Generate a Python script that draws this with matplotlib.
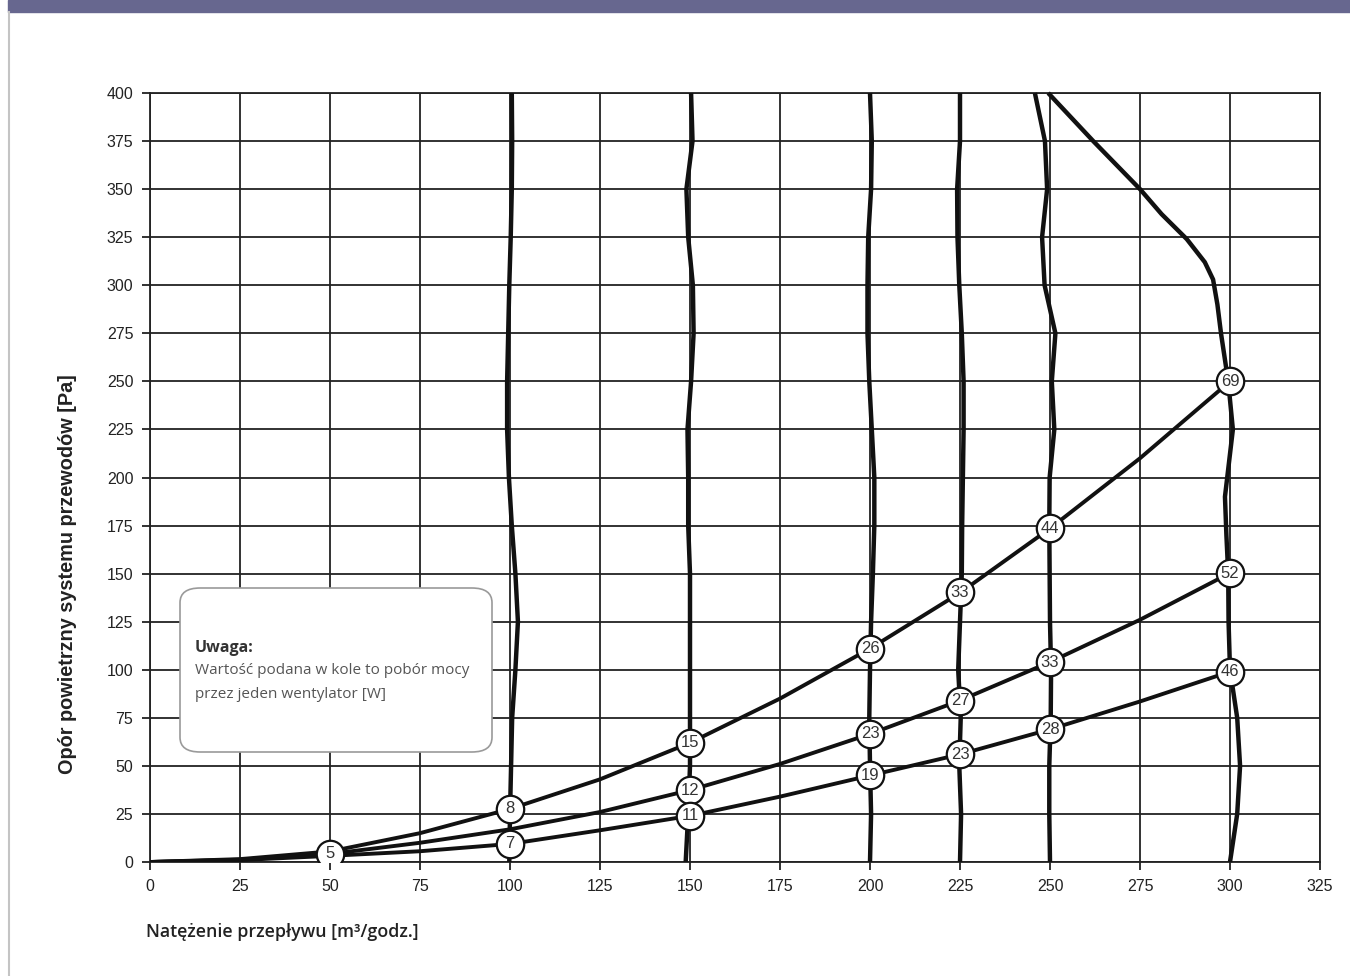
import matplotlib.pyplot as plt
from matplotlib.patches import FancyBboxPatch, Rectangle

# Oś X / Y
x_ticks = [0, 25, 50, 75, 100, 125, 150, 175, 200, 225, 250, 275, 300, 325]
y_ticks = [0, 25, 50, 75, 100, 125, 150, 175, 200, 225, 250, 275, 300, 325, 350, 375, 400]

# Charakterystyki instalacji (opór w funkcji przepływu)
sys_flow = [0, 25, 50, 75, 100, 125, 150, 175, 200, 225, 250, 275, 300]
sys_high = [0, 1.5, 5.5, 15, 27.6, 43, 62, 85, 111, 140, 173.5, 210, 250]
sys_mid = [0, 1.2, 4.2, 10, 17, 26, 37.4, 51, 66.6, 84, 104, 126, 150.3]
sys_low = [0, 1, 3.2, 5.6, 9.4, 16.5, 24, 34, 45, 56, 69, 83.5, 99]

# Charakterystyki wentylatora (przepływ odczytany na kolejnych wysokościach)
fan_p = [0, 25, 50, 75, 100, 125, 150, 175, 200, 225, 250, 275, 300, 325, 350, 375, 400]
fan_100 = [99.8, 100, 100.3, 100.6, 101.5, 102.2, 101.5, 100.5, 99.7, 99.2, 99.2, 99.5, 99.8, 100.2, 100.5, 100.6, 100.5]
fan_150 = [148.8, 149.5, 150, 150, 150, 150, 150, 149.5, 149.5, 149.3, 150.3, 151, 150.8, 149.5, 149, 150.7, 150.3]
fan_200 = [200, 200.3, 200, 199.8, 200, 200.3, 200.8, 201.2, 201.2, 200.5, 199.8, 199.3, 199.3, 199.5, 200.3, 200.5, 200]
fan_225 = [225, 225.3, 224.8, 225.2, 224.5, 225, 225.5, 225.6, 225.8, 226, 226, 225.5, 224.8, 224.3, 224.2, 225, 225]
fan_250 = [250, 249.8, 249.8, 250.2, 250.3, 250, 249.9, 249.8, 249.9, 251.2, 250.5, 251.5, 248.5, 247.8, 249.2, 248.6, 245.8]

# Krzywa dla 300 - zagina się u góry
fan300_q = [300, 302, 302.8, 302, 300, 299.6, 299.5, 299, 298.6, 300.8, 299.5, 297.5, 296.5, 295.3, 293, 288, 281, 275, 262, 249.5]
fan300_p = [0, 25, 50, 75, 100, 125, 150, 170, 190, 225, 250, 275, 290, 303, 312, 324, 337, 350, 375, 400]

# Pobór mocy w punktach pracy [W]
pt_q = [50, 100, 100, 150, 150, 150, 200, 200, 200, 225, 225, 225, 250, 250, 250, 300, 300, 300]
pt_p = [4.2, 27.6, 9.4, 62, 37.4, 24, 111, 66.6, 45, 140.4, 84, 56, 173.5, 104, 69, 250, 150.3, 99]
pt_w = ["5", "8", "7", "15", "12", "11", "26", "23", "19", "33", "27", "23", "44", "33", "28", "69", "52", "46"]

plt.rcParams['font.family'] = ['Liberation Sans', 'DejaVu Sans']

fig = plt.figure(figsize=(13.5, 9.76), dpi=100)

# pasek u góry i ramka strony
fig.patches.append(Rectangle((8 / 1350, 1 - 12 / 976), 1, 12 / 976, transform=fig.transFigure,
                             color="#67678f", zorder=0))
fig.add_artist(plt.Line2D([8.5 / 1350, 8.5 / 1350], [0, 1 - 12 / 976], transform=fig.transFigure,
                          color="#c4c4c4", lw=1.5))

ax = fig.add_axes([150 / 1350, 114 / 976, 1170 / 1350, 769 / 976])
ax.set_xlim(0, 325)
ax.set_ylim(0, 400)
ax.set_xticks(x_ticks)
ax.set_yticks(y_ticks)
ax.grid(True, color="#222222", lw=1.3)
ax.set_axisbelow(True)
for s in ax.spines.values():
    s.set_color("#222222")
    s.set_linewidth(1.3)
ax.tick_params(direction="out", length=6, width=1.3, color="#222222",
               labelsize=11.5, labelcolor="#222222", pad=6)

lw = 3.2
for q in [fan_100, fan_150, fan_200, fan_225, fan_250]:
    ax.plot(q, fan_p, color="#111111", lw=lw, solid_capstyle="butt", zorder=3, clip_on=False)
ax.plot(fan300_q, fan300_p, color="#111111", lw=lw, solid_capstyle="butt", zorder=3, clip_on=False)

for p in [sys_high, sys_mid, sys_low]:
    ax.plot(sys_flow, p, color="#111111", lw=2.8, zorder=4)

ax.scatter(pt_q, pt_p, s=390, facecolor="white", edgecolor="#111111", linewidth=1.6, zorder=5)
for q, p, w in zip(pt_q, pt_p, pt_w):
    ax.text(q, p, w, ha="center", va="center", fontsize=12, color="#333333", zorder=6)

# ramka z uwagą
box = FancyBboxPatch((180 / 1350, 1 - 752 / 976), 312 / 1350, 164 / 976,
                     boxstyle="round,pad=0,rounding_size=0.015", transform=fig.transFigure,
                     facecolor="white", edgecolor="#9a9a9a", lw=1.2, zorder=10)
fig.patches.append(box)
fig.text(195 / 1350, 1 - 648 / 976, "Uwaga:", fontsize=11.5, fontweight="bold", color="#333333",
         family=["Open Sans", "DejaVu Sans"], va="center", zorder=11)
fig.text(195 / 1350, 1 - 671 / 976, "Wartość podana w kole to pobór mocy", fontsize=11,
         color="#555555", family=["Open Sans", "DejaVu Sans"], va="center", zorder=11)
fig.text(195 / 1350, 1 - 694 / 976, "przez jeden wentylator [W]", fontsize=11,
         color="#555555", family=["Open Sans", "DejaVu Sans"], va="center", zorder=11)

fig.text(146 / 1350, 1 - 932 / 976, "Natężenie przepływu [m³/godz.]", fontsize=12.8,
         fontweight="semibold", color="#222222", family=["Open Sans", "DejaVu Sans"], va="center")
fig.text(68 / 1350, 1 - 574 / 976, "Opór powietrzny systemu przewodów [Pa]", fontsize=14.3,
         fontweight="bold", color="#222222", rotation=90, ha="center", va="center")

fig.savefig("out.png", dpi=100)
